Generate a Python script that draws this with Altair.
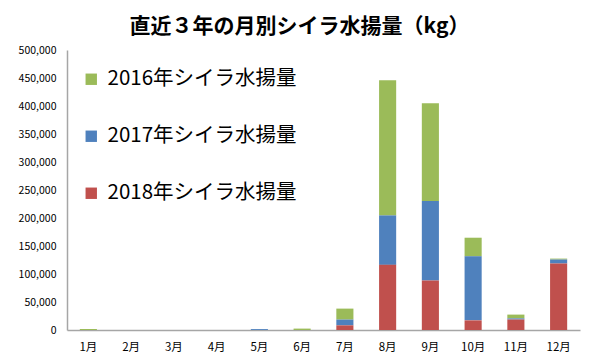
import altair as alt
import pandas as pd

months = ["1月", "2月", "3月", "4月", "5月", "6月", "7月", "8月", "9月", "10月", "11月", "12月"]
series = ["2016年シイラ水揚量", "2017年シイラ水揚量", "2018年シイラ水揚量"]
v2016 = [1800, 0, 0, 0, 0, 2500, 19600, 241400, 174900, 33300, 6800, 1700]
v2017 = [0, 0, 0, 0, 1600, 0, 10300, 88300, 141800, 114300, 2000, 7100]
v2018 = [0, 0, 0, 0, 0, 0, 8300, 116300, 88400, 17200, 18700, 118700]
colors = ["#9BBB59", "#4F81BD", "#C0504D"]
stack_order = {series[0]: 3, series[1]: 2, series[2]: 1}

rows = []
for s, vals in zip(series, [v2016, v2017, v2018]):
    for m, v in zip(months, vals):
        rows.append({"month": m, "series": s, "value": v, "ord": stack_order[s]})
df = pd.DataFrame(rows)

FONT = "Noto Sans CJK JP"

chart = alt.Chart(df).mark_bar().encode(
    x=alt.X("month:N", sort=months, title=None,
            scale=alt.Scale(paddingInner=0.6, paddingOuter=0.3),
            axis=alt.Axis(labelAngle=0, ticks=False, labelFontSize=11.5, labelPadding=11,
                          labelColor="#000000", domainColor="#A6A6A6", domainWidth=1.5)),
    y=alt.Y("value:Q", stack="zero", title=None,
            scale=alt.Scale(domain=[0, 500000], nice=False),
            axis=alt.Axis(values=list(range(0, 500001, 50000)), format=",d", grid=False,
                          ticks=False, labelFontSize=10.5, labelPadding=11, labelColor="#000000",
                          domainColor="#A6A6A6", domainWidth=1.5)),
    color=alt.Color("series:N", sort=series,
                    scale=alt.Scale(domain=series, range=colors),
                    legend=alt.Legend(title=None, orient="none", legendX=14, legendY=19,
                                      direction="vertical", symbolType="square", symbolSize=130,
                                      symbolStrokeWidth=0, labelFontSize=20.5, labelFont=FONT,
                                      labelLimit=0, labelColor="#000000", rowPadding=36,
                                      labelOffset=6)),
    order=alt.Order("ord:Q", sort="ascending"),
).properties(
    width=513, height=280,
    title=alt.TitleParams("直近３年の月別シイラ水揚量（kg）", fontSize=21, font=FONT,
                          fontWeight="bold", color="#000000", anchor="middle", offset=8,
                          dx=-24),
    autosize=alt.AutoSizeParams(type="none"),
    padding={"left": 59, "top": 42, "right": 5, "bottom": 28},
).configure_view(stroke=None).configure_axis(labelFont=FONT)

chart.save("out.html", embed_options={"renderer": "svg", "actions": False})
